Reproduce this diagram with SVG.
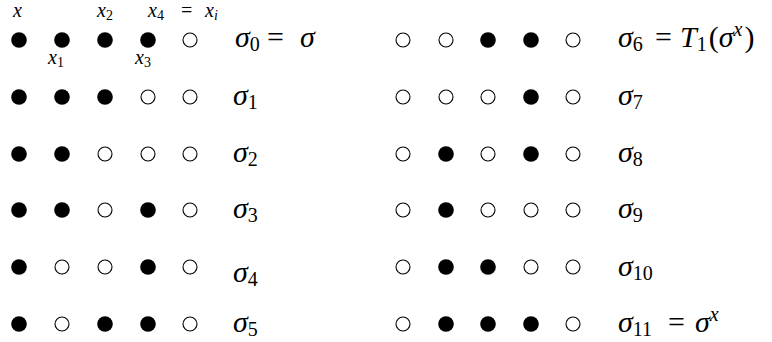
<svg xmlns="http://www.w3.org/2000/svg" width="772" height="342" viewBox="0 0 772 342">
<style>
.f{fill:#000}
.o{fill:#fff;stroke:#000;stroke-width:1.1}
.m{font-size:30px;font-style:italic;fill:#000}
.s{font-size:20px;font-style:normal}
.si{font-size:20px;font-style:italic}
.u{font-style:normal}
.t{font-size:20px;font-style:italic;fill:#000}
.ts{font-size:14px;font-style:normal}
.tsi{font-size:14px;font-style:italic}
</style>
<g font-family="Liberation Serif, serif">
<g id="labels-top">
<text class="t" x="13" y="17">x</text>
<text class="t" x="97" y="17">x<tspan class="ts" dy="3">2</tspan></text>
<text class="t" x="148" y="17">x<tspan class="ts" dy="3">4</tspan><tspan class="u" x="181" dy="-3">=</tspan><tspan x="205">x</tspan><tspan class="tsi" dy="3">i</tspan></text>
<text class="t" x="48" y="64">x<tspan class="ts" dy="3">1</tspan></text>
<text class="t" x="135" y="64">x<tspan class="ts" dy="3">3</tspan></text>
</g>
<g id="row0">
<circle class="f" cx="19" cy="40" r="7.8"/><circle class="f" cx="62" cy="40" r="7.8"/><circle class="f" cx="105" cy="40" r="7.8"/><circle class="f" cx="148" cy="40" r="7.8"/><circle class="o" cx="190" cy="40" r="7"/>
<text class="m" x="235" y="47">σ<tspan class="s" dy="4">0</tspan><tspan class="u" x="267" dy="-4">=</tspan><tspan x="300">σ</tspan></text>
</g>
<g id="row1">
<circle class="f" cx="19" cy="97" r="7.8"/><circle class="f" cx="62" cy="97" r="7.8"/><circle class="f" cx="105" cy="97" r="7.8"/><circle class="o" cx="148" cy="97" r="7"/><circle class="o" cx="190" cy="97" r="7"/>
<text class="m" x="233" y="105">σ<tspan class="s" dy="4">1</tspan></text>
</g>
<g id="row2">
<circle class="f" cx="19" cy="154" r="7.8"/><circle class="f" cx="62" cy="154" r="7.8"/><circle class="o" cx="105" cy="154" r="7"/><circle class="o" cx="148" cy="154" r="7"/><circle class="o" cx="190" cy="154" r="7"/>
<text class="m" x="233" y="162">σ<tspan class="s" dy="4">2</tspan></text>
</g>
<g id="row3">
<circle class="f" cx="19" cy="210" r="7.8"/><circle class="f" cx="62" cy="210" r="7.8"/><circle class="o" cx="105" cy="210" r="7"/><circle class="f" cx="148" cy="210" r="7.8"/><circle class="o" cx="190" cy="210" r="7"/>
<text class="m" x="233" y="218">σ<tspan class="s" dy="4">3</tspan></text>
</g>
<g id="row4">
<circle class="f" cx="19" cy="267" r="7.8"/><circle class="o" cx="62" cy="267" r="7"/><circle class="o" cx="105" cy="267" r="7"/><circle class="f" cx="148" cy="267" r="7.8"/><circle class="o" cx="190" cy="267" r="7"/>
<text class="m" x="233" y="282">σ<tspan class="s" dy="4">4</tspan></text>
</g>
<g id="row5">
<circle class="f" cx="19" cy="324" r="7.8"/><circle class="o" cx="62" cy="324" r="7"/><circle class="f" cx="105" cy="324" r="7.8"/><circle class="f" cx="148" cy="324" r="7.8"/><circle class="o" cx="190" cy="324" r="7"/>
<text class="m" x="233" y="332">σ<tspan class="s" dy="4">5</tspan></text>
</g>
<g id="row6">
<circle class="o" cx="403" cy="40" r="7"/><circle class="o" cx="446" cy="40" r="7"/><circle class="f" cx="488" cy="40" r="7.8"/><circle class="f" cx="531" cy="40" r="7.8"/><circle class="o" cx="573" cy="40" r="7"/>
<text class="m" x="618" y="47">σ<tspan class="s" dy="4">6</tspan><tspan class="u" x="655" dy="-4">=</tspan><tspan x="680">T</tspan><tspan class="s" dy="4">1</tspan><tspan class="u" dx="2" dy="-4">(</tspan><tspan>σ</tspan><tspan class="si" dy="-11">x</tspan><tspan class="u" dx="2" dy="11">)</tspan></text>
</g>
<g id="row7">
<circle class="o" cx="403" cy="97" r="7"/><circle class="o" cx="446" cy="97" r="7"/><circle class="o" cx="488" cy="97" r="7"/><circle class="f" cx="531" cy="97" r="7.8"/><circle class="o" cx="573" cy="97" r="7"/>
<text class="m" x="618" y="105">σ<tspan class="s" dy="4">7</tspan></text>
</g>
<g id="row8">
<circle class="o" cx="403" cy="154" r="7"/><circle class="f" cx="446" cy="154" r="7.8"/><circle class="o" cx="488" cy="154" r="7"/><circle class="f" cx="531" cy="154" r="7.8"/><circle class="o" cx="573" cy="154" r="7"/>
<text class="m" x="618" y="162">σ<tspan class="s" dy="4">8</tspan></text>
</g>
<g id="row9">
<circle class="o" cx="403" cy="210" r="7"/><circle class="f" cx="446" cy="210" r="7.8"/><circle class="o" cx="488" cy="210" r="7"/><circle class="o" cx="531" cy="210" r="7"/><circle class="o" cx="573" cy="210" r="7"/>
<text class="m" x="618" y="218">σ<tspan class="s" dy="4">9</tspan></text>
</g>
<g id="row10">
<circle class="o" cx="403" cy="267" r="7"/><circle class="f" cx="446" cy="267" r="7.8"/><circle class="f" cx="488" cy="267" r="7.8"/><circle class="o" cx="531" cy="267" r="7"/><circle class="o" cx="573" cy="267" r="7"/>
<text class="m" x="618" y="276">σ<tspan class="s" dy="4">10</tspan></text>
</g>
<g id="row11">
<circle class="o" cx="403" cy="324" r="7"/><circle class="f" cx="446" cy="324" r="7.8"/><circle class="f" cx="488" cy="324" r="7.8"/><circle class="f" cx="531" cy="324" r="7.8"/><circle class="o" cx="573" cy="324" r="7"/>
<text class="m" x="618" y="332">σ<tspan class="s" dy="4">11</tspan><tspan class="u" x="668" dy="-4">=</tspan><tspan x="695">σ</tspan><tspan class="si" dy="-11">x</tspan></text>
</g>
</g>
<g id="connectors"></g>
</svg>
